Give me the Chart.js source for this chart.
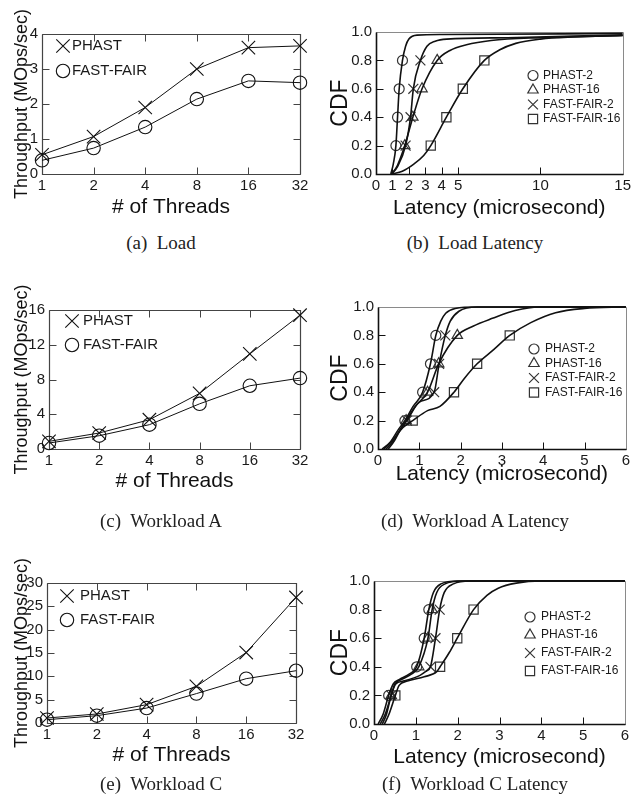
<!DOCTYPE html>
<html>
<head>
<meta charset="utf-8">
<script src="https://cdn.jsdelivr.net/npm/chart.js@4.4.1/dist/chart.umd.min.js"></script>
<style>
  body { margin: 0; background: #fff; width: 634px; height: 805px; position: relative; overflow: hidden; }
  canvas { position: absolute; }
  .cap { position: absolute; transform: translate(-50%, -50%); white-space: pre;
         font-family: "Liberation Serif", "Times New Roman", serif; font-size: 19px; color: #222; }
</style>
</head>
<body>
<canvas id="cA"></canvas><canvas id="cB"></canvas>
<canvas id="cC"></canvas><canvas id="cD"></canvas>
<canvas id="cE"></canvas><canvas id="cF"></canvas>
<div class="cap" style="left:161px;top:243px">(a)  Load</div>
<div class="cap" style="left:475px;top:243px">(b)  Load Latency</div>
<div class="cap" style="left:161px;top:521px">(c)  Workload A</div>
<div class="cap" style="left:475px;top:521px">(d)  Workload A Latency</div>
<div class="cap" style="left:161px;top:784px">(e)  Workload C</div>
<div class="cap" style="left:475px;top:784px">(f)  Workload C Latency</div>
<script>
'use strict';

// ---- throughput data (MOps/sec) ----
const threads = ['1', '2', '4', '8', '16', '32'];
const loadPhast = [0.55, 1.07, 1.9, 3.0, 3.61, 3.66];
const loadFastFair = [0.39, 0.74, 1.34, 2.14, 2.66, 2.61];
const wlAPhast = [0.88, 1.84, 3.37, 6.4, 10.95, 15.4];
const wlAFastFair = [0.69, 1.53, 2.8, 5.2, 7.28, 8.16];
const wlCPhast = [1.07, 1.93, 3.93, 7.86, 15.1, 26.9];
const wlCFastFair = [0.71, 1.57, 3.2, 6.3, 9.5, 11.2];

// ---- latency CDFs: marker latencies sit at these CDF levels ----
const cdfLevels = [0.2, 0.4, 0.6, 0.8];
const loadLatTicks = [0, 1, 2, 3, 4, 5, 10, 15];

// (b) load
const loadP2Marks = [1.21, 1.31, 1.41, 1.61];
const loadP2Curve = [[0.9, 0], [1.05, 0.07], [1.8, 0.9], [2.0, 0.95], [2.5, 0.978], [4, 0.982], [15, 0.99]];
const loadP16Marks = [1.75, 2.24, 2.8, 3.72];
const loadP16Curve = [[0.95, 0], [1.3, 0.06], [4.5, 0.87], [5.5, 0.91], [7, 0.94], [10, 0.96], [15, 0.975]];
const loadF2Marks = [1.8, 2.1, 2.27, 2.7];
const loadF2Curve = [[0.95, 0], [1.3, 0.05], [3.1, 0.9], [3.6, 0.935], [4.3, 0.95], [8, 0.96], [15, 0.98]];
const loadF16Marks = [3.33, 4.28, 5.28, 6.59];
const loadF16Curve = [[0.95, 0], [1.6, 0.02], [2.3, 0.07], [2.9, 0.13], [7.5, 0.873], [8.5, 0.92], [10, 0.95], [12, 0.965], [15, 0.975]];

// (d) workload A
const wlAP2Marks = [0.65, 1.08, 1.27, 1.40];
const wlAP2Curve = [[0.1, 0], [0.3, 0.05], [0.5, 0.14], [0.85, 0.3], [1.52, 0.9], [1.64, 0.956], [1.87, 0.99], [2.4, 1], [6, 1]];
const wlAP16Marks = [0.68, 1.2, 1.47, 1.92];
const wlAP16Curve = [[0.2, 0], [0.35, 0.05], [0.5, 0.12], [0.9, 0.3], [2.3, 0.865], [2.77, 0.92], [3.32, 0.975], [3.9, 1], [6, 1]];
const wlAF2Marks = [0.70, 1.36, 1.48, 1.63];
const wlAF2Curve = [[0.25, 0], [0.4, 0.06], [0.55, 0.14], [1.0, 0.33], [1.75, 0.9], [1.96, 0.97], [2.4, 1], [6, 1]];
const wlAF16Marks = [0.84, 1.84, 2.4, 3.19];
const wlAF16Curve = [[0.15, 0], [0.35, 0.06], [0.6, 0.15], [1.2, 0.27], [1.5, 0.3], [2.1, 0.5], [2.8, 0.7], [3.7, 0.89], [4.3, 0.96], [5, 0.99], [6, 1]];

// (f) workload C
const wlCP2Marks = [0.35, 1.02, 1.20, 1.31];
const wlCP2Curve = [[0.1, 0], [0.22, 0.07], [0.46, 0.28], [0.6, 0.31], [0.85, 0.35], [1.42, 0.92], [1.6, 0.98], [2.0, 1], [6, 1]];
const wlCP16Marks = [0.41, 1.07, 1.29, 1.39];
const wlCP16Curve = [[0.15, 0], [0.27, 0.07], [0.5, 0.28], [0.65, 0.31], [0.9, 0.35], [1.5, 0.92], [1.7, 0.98], [2.1, 1], [6, 1]];
const wlCF2Marks = [0.41, 1.35, 1.47, 1.57];
const wlCF2Curve = [[0.2, 0], [0.3, 0.07], [0.52, 0.28], [0.7, 0.3], [1.1, 0.34], [1.25, 0.37], [1.68, 0.92], [1.9, 0.98], [2.3, 1], [6, 1]];
const wlCF16Marks = [0.51, 1.58, 1.99, 2.38];
const wlCF16Curve = [[0.25, 0], [0.36, 0.07], [0.6, 0.27], [0.8, 0.3], [1.2, 0.33], [1.5, 0.366], [1.8, 0.5], [2.7, 0.9], [2.97, 0.95], [3.4, 0.985], [4, 1], [6, 1]];

Chart.defaults.font.family = '"Liberation Sans", Arial, Helvetica, sans-serif';
Chart.defaults.color = '#1a1a1a';

// frame box with inward ticks (gnuplot look)
const framePlugin = {
  id: 'frame',
  beforeDatasetsDraw(chart, args, o) {
    const { ctx, chartArea: a } = chart;
    const { x, y } = chart.scales;
    const L = Math.round(a.left) + 0.5, R = Math.round(a.right) + 0.5;
    const T = Math.round(a.top) + 0.5, B = Math.round(a.bottom) + 0.5;
    ctx.save();
    ctx.lineWidth = 1;
    ctx.strokeStyle = o.tick;
    ctx.beginPath();
    x.ticks.forEach((t, i) => {
      const p = Math.round(x.getPixelForTick(i)) + 0.5;
      ctx.moveTo(p, B); ctx.lineTo(p, B - o.len);
      if (o.all) { ctx.moveTo(p, T); ctx.lineTo(p, T + o.len); }
    });
    y.ticks.forEach((t, i) => {
      const p = Math.round(y.getPixelForTick(i)) + 0.5;
      ctx.moveTo(L, p); ctx.lineTo(L + o.len, p);
      if (o.all) { ctx.moveTo(R, p); ctx.lineTo(R - o.len, p); }
    });
    ctx.stroke();
    ctx.strokeStyle = o.far; ctx.lineWidth = o.farWidth;
    ctx.beginPath(); ctx.moveTo(L, T); ctx.lineTo(R, T); ctx.lineTo(R, B); ctx.stroke();
    ctx.strokeStyle = o.near; ctx.lineWidth = o.nearWidth;
    ctx.beginPath(); ctx.moveTo(L, T); ctx.lineTo(L, B); ctx.lineTo(R, B); ctx.stroke();
    ctx.restore();
  }
};

// in-plot key: marker + dataset label
const keyPlugin = {
  id: 'key',
  afterDatasetsDraw(chart, args, o) {
    const { ctx } = chart;
    ctx.save();
    ctx.font = o.keyFont;
    ctx.textBaseline = 'middle';
    o.items.forEach(it => {
      const ds = chart.data.datasets[it.ds];
      ctx.fillStyle = 'rgba(0,0,0,0)';
      ctx.strokeStyle = ds.pointBorderColor;
      ctx.lineWidth = ds.pointBorderWidth;
      Chart.helpers.drawPoint(ctx, { pointStyle: ds.pointStyle, radius: ds.pointRadius, borderWidth: ds.pointBorderWidth, rotation: 0 }, it.mx, it.y);
      ctx.fillStyle = '#1a1a1a';
      ctx.fillText(ds.label, it.tx, it.y);
    });
    ctx.restore();
  }
};

function tpLine(label, data, style, r) {
  return {
    label, data, borderColor: '#111', borderWidth: 1, tension: 0, clip: false,
    pointStyle: style, pointRadius: r, pointBorderColor: '#111', pointBorderWidth: 1.1,
    pointBackgroundColor: 'rgba(0,0,0,0)'
  };
}

function cdfSets(series) {
  const curves = series.map(s => ({
    data: s.curve.concat(s.marks.map((v, i) => [v, cdfLevels[i]]))
      .sort((p, q) => p[0] - q[0]).map(([x, y]) => ({ x, y })),
    borderColor: '#111', borderWidth: 1.6, pointRadius: 0,
    cubicInterpolationMode: 'monotone', clip: false
  }));
  const marks = series.map(s => ({
    label: s.label, data: s.marks.map((v, i) => ({ x: v, y: cdfLevels[i] })),
    showLine: false, clip: false, pointStyle: s.style, pointRadius: s.r,
    pointBorderColor: '#333', pointBorderWidth: 1.2, pointBackgroundColor: 'rgba(0,0,0,0)'
  }));
  return curves.concat(marks);
}

function panel(id, box, area, o) {
  const cv = document.getElementById(id);
  cv.width = box.w; cv.height = box.h;
  cv.style.left = box.x + 'px'; cv.style.top = box.y + 'px';
  const xPad = box.y + box.h - o.xTitleY - o.xTitleSize * 0.6;
  const yPad = o.yTitleX - box.x - o.yTitleSize * 0.6;
  const yTicks = { color: '#1a1a1a', font: { size: 15 }, padding: 4, stepSize: o.yStep };
  if (o.cdf) yTicks.callback = v => v.toFixed(1);
  const x = o.cdf
    ? { type: 'linear', min: 0, max: o.xMax }
    : { type: 'category', offset: false };
  if (o.xCustom) x.afterBuildTicks = s => { s.ticks = o.xCustom.map(v => ({ value: v })); };
  Object.assign(x, {
    grid: { display: false, drawTicks: false }, border: { display: false },
    ticks: { color: '#1a1a1a', font: { size: 15 }, padding: 3, maxRotation: 0, autoSkip: false, stepSize: 1 },
    title: { display: true, text: o.xTitle, color: '#111', font: { size: o.xTitleSize }, padding: { top: 0, bottom: xPad } },
    afterFit: s => { s.height = box.y + box.h - area.b; }
  });
  return new Chart(cv, {
    type: 'line',
    data: { labels: o.labels, datasets: o.datasets },
    options: {
      responsive: false, animation: false, devicePixelRatio: 1, events: [],
      layout: { padding: { left: 0, bottom: 0, top: area.t - box.y, right: box.x + box.w - area.r } },
      plugins: {
        legend: { display: false }, tooltip: { enabled: false },
        frame: o.frame,
        key: {
          keyFont: o.keyFont,
          items: o.key.map(k => ({ ds: k.ds, mx: k.mx - box.x, tx: k.tx - box.x, y: k.y - box.y }))
        }
      },
      scales: {
        x,
        y: {
          type: 'linear', min: o.yMin, max: o.yMax,
          grid: { display: false, drawTicks: false }, border: { display: false },
          ticks: yTicks,
          title: { display: true, text: o.yTitle, color: '#111', font: { size: o.yTitleSize }, padding: { top: yPad, bottom: 0 } },
          afterFit: s => { s.width = area.l - box.x; }
        }
      }
    },
    plugins: [framePlugin, keyPlugin]
  });
}

const tpFrame = { all: true, len: 7, tick: '#444', far: '#444', farWidth: 1.2, near: '#444', nearWidth: 1.2 };
const cdfFrame = { all: false, len: 7, tick: '#111', far: '#8a8a8a', farWidth: 1, near: '#111', nearWidth: 1.6 };

function tpPanel(id, box, area, phast, fastFair, yMax, yStep, key) {
  panel(id, box, area, {
    labels: threads,
    datasets: [tpLine('PHAST', phast, 'crossRot', 9.5), tpLine('FAST-FAIR', fastFair, 'circle', 6.7)],
    yMin: 0, yMax, yStep,
    xTitle: '# of Threads', xTitleSize: 21, xTitleY: key.titleY,
    yTitle: 'Throughput (MOps/sec)', yTitleSize: 18, yTitleX: 22,
    frame: tpFrame, keyFont: '15px "Liberation Sans", Arial, sans-serif',
    key: [{ ds: 0, mx: key.mx, tx: key.tx, y: key.y0 }, { ds: 1, mx: key.mx, tx: key.tx, y: key.y1 }]
  });
}

function cdfPanel(id, box, area, series, xMax, xCustom, key) {
  panel(id, box, area, {
    datasets: cdfSets(series), cdf: true,
    xMax, xCustom, yMin: 0, yMax: 1, yStep: 0.2,
    xTitle: 'Latency (microsecond)', xTitleSize: 21, xTitleY: key.titleY,
    yTitle: 'CDF', yTitleSize: 23, yTitleX: 340.5,
    frame: cdfFrame, keyFont: '12px "Liberation Sans", Arial, sans-serif',
    key: key.rows.map((y, i) => ({ ds: 4 + i, mx: key.mx, tx: key.tx, y }))
  });
}

const names = ['PHAST-2', 'PHAST-16', 'FAST-FAIR-2', 'FAST-FAIR-16'];
const styles = [['circle', 5], ['triangle', 6], ['crossRot', 7], ['rect', 6.5]];
const mkSeries = (marks, curves) => marks.map((m, i) =>
  ({ label: names[i], marks: m, curve: curves[i], style: styles[i][0], r: styles[i][1] }));

tpPanel('cA', { x: 0, y: 0, w: 317, h: 224 }, { l: 42, t: 34, r: 300, b: 174 },
  loadPhast, loadFastFair, 4, 1, { titleY: 207, mx: 63, tx: 72, y0: 46, y1: 71 });
tpPanel('cC', { x: 0, y: 255, w: 317, h: 240 }, { l: 49, t: 310, r: 300, b: 449 },
  wlAPhast, wlAFastFair, 16, 4, { titleY: 481, mx: 72, tx: 83, y0: 321, y1: 345 });
tpPanel('cE', { x: 0, y: 520, w: 317, h: 255 }, { l: 47, t: 583, r: 296, b: 723 },
  wlCPhast, wlCFastFair, 30, 5, { titleY: 755, mx: 67, tx: 80, y0: 596, y1: 620 });

cdfPanel('cB', { x: 317, y: 0, w: 317, h: 225 }, { l: 376, t: 32, r: 624, b: 174 },
  mkSeries([loadP2Marks, loadP16Marks, loadF2Marks, loadF16Marks], [loadP2Curve, loadP16Curve, loadF2Curve, loadF16Curve]),
  15, loadLatTicks, { titleY: 208, mx: 533, tx: 543, rows: [75.5, 90, 104.5, 119] });
cdfPanel('cD', { x: 317, y: 255, w: 317, h: 240 }, { l: 378, t: 307, r: 629, b: 449 },
  mkSeries([wlAP2Marks, wlAP16Marks, wlAF2Marks, wlAF16Marks], [wlAP2Curve, wlAP16Curve, wlAF2Curve, wlAF16Curve]),
  6, null, { titleY: 474, mx: 534, tx: 545, rows: [349, 363.5, 378, 392.5] });
cdfPanel('cF', { x: 317, y: 520, w: 317, h: 255 }, { l: 374, t: 581, r: 625, b: 724 },
  mkSeries([wlCP2Marks, wlCP16Marks, wlCF2Marks, wlCF16Marks], [wlCP2Curve, wlCP16Curve, wlCF2Curve, wlCF16Curve]),
  6, null, { titleY: 757, mx: 530, tx: 541, rows: [617, 635, 653, 671] });
</script>
</body>
</html>
